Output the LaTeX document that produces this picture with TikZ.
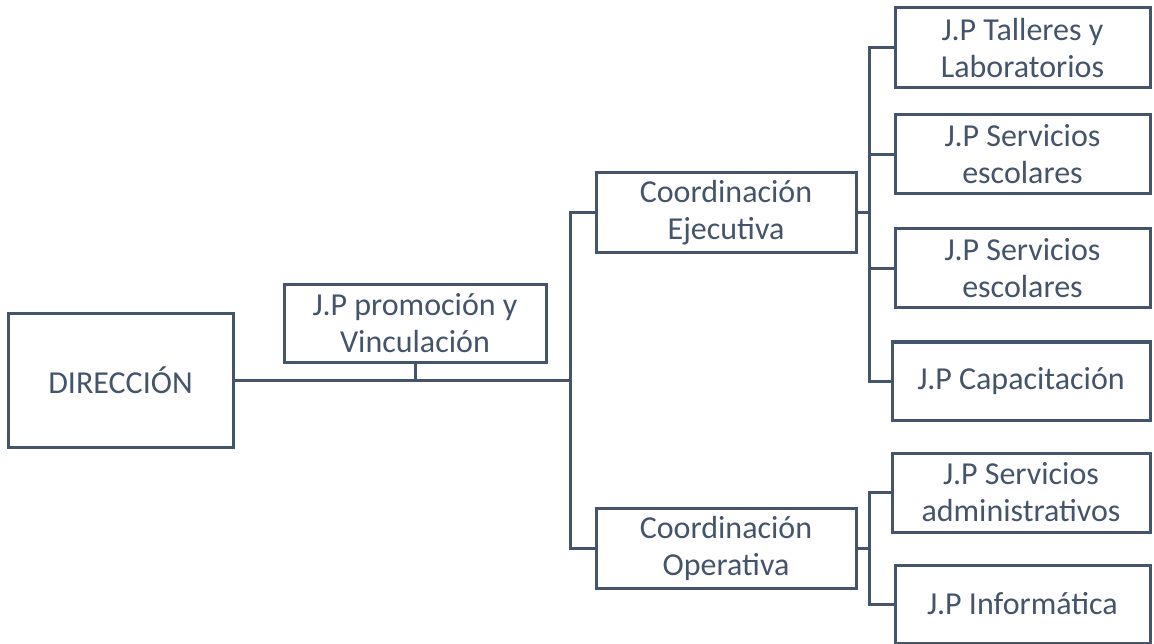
\documentclass[tikz,border=0pt]{standalone}
\usepackage{fontspec}
\setmainfont{Carlito}
\definecolor{slate}{HTML}{44546A}
\begin{document}
\begin{tikzpicture}[x=1pt,y=-1pt,
  box/.style={draw=slate,line width=3pt,text=slate,inner sep=0pt,align=center,
    font=\fontsize{32}{37}\selectfont},
  conn/.style={draw=slate,line width=3pt,line join=miter}]
\useasboundingbox (0,0) rectangle (1154,644);
\node[box,minimum width=225pt,minimum height=133pt] (dir) at (120.5,380.5) {DIRECCIÓN};
\node[box,minimum width=262pt,minimum height=78pt] (jp) at (415,323.5) {J.P promoción y\\Vinculación};
\node[box,minimum width=260pt,minimum height=80pt] (ce) at (726,213) {Coordinación\\Ejecutiva};
\node[box,minimum width=260pt,minimum height=80pt] (co) at (726,548) {Coordinación\\Operativa};
\node[box,minimum width=255pt,minimum height=80pt] (t1) at (1022.5,48) {J.P Talleres y\\Laboratorios};
\node[box,minimum width=255pt,minimum height=79pt] (t2) at (1022.5,154.5) {J.P Servicios\\escolares};
\node[box,minimum width=255pt,minimum height=79pt] (t3) at (1022.5,268.5) {J.P Servicios\\escolares};
\node[box,minimum width=258pt,minimum height=78pt] (t4) at (1021,381) {J.P Capacitación};
\node[box,minimum width=258pt,minimum height=79pt] (t5) at (1021,492.5) {J.P Servicios\\administrativos};
\node[box,minimum width=255pt,minimum height=78pt] (t6) at (1022.5,604) {J.P Informática};
\coordinate (tk) at (570,380.5);
\coordinate (eb) at (869,213);
\coordinate (ob) at (869,548);
\draw[conn] (dir.east) -- (tk);
\draw[conn] (jp.south) -- (jp.south |- tk);
\draw[conn] (ce.west) -| (tk);
\draw[conn] (co.west) -| (tk);
\draw[conn] (ce.east) -- (eb);
\draw[conn] (t1.west) -| (eb);
\draw[conn] (t2.west) -| (eb);
\draw[conn] (t3.west) -| (eb);
\draw[conn] (t4.west) -| (eb);
\draw[conn] (co.east) -- (ob);
\draw[conn] (t5.west) -| (ob);
\draw[conn] (t6.west) -| (ob);
\end{tikzpicture}
\end{document}
